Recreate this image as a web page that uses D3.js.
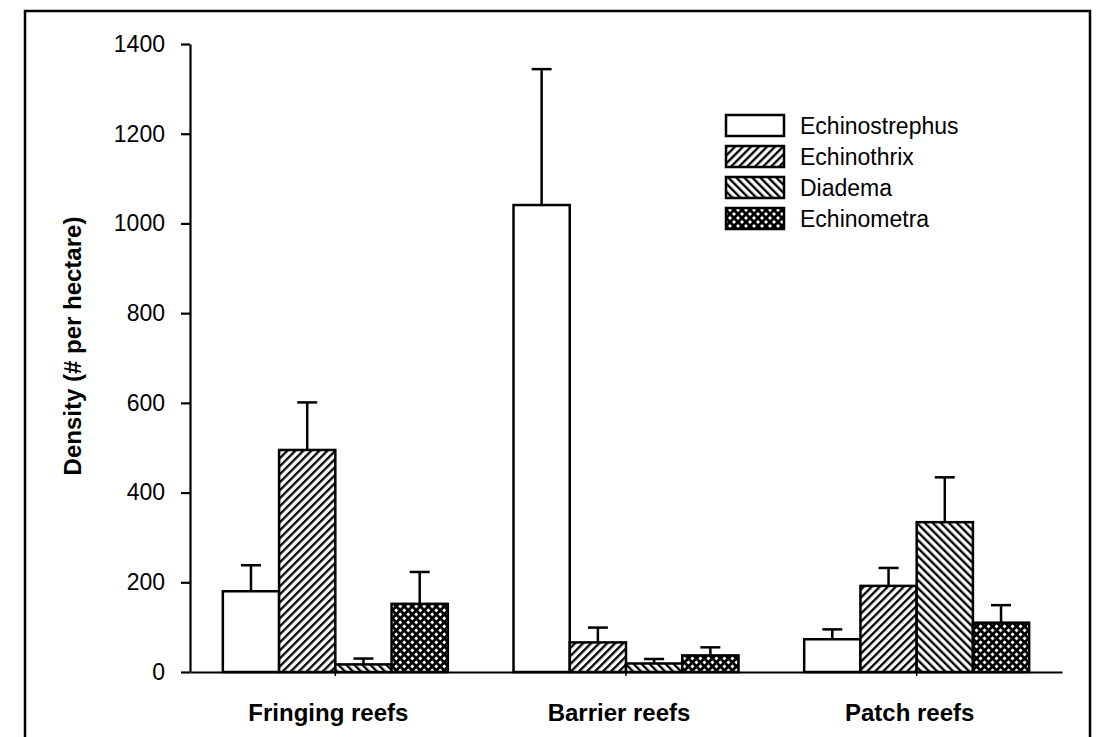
<!DOCTYPE html>
<html>
<head>
<meta charset="utf-8">
<script src="https://cdn.jsdelivr.net/npm/d3@7"></script>
<style>
  html, body { margin: 0; padding: 0; background: #fff; }
  svg { display: block; font-family: "Liberation Sans", Arial, Helvetica, sans-serif; }
</style>
</head>
<body>
<svg id="chart" width="1102" height="737"></svg>
<script>
// ---- data ----
const categories = ["Fringing reefs", "Barrier reefs", "Patch reefs"];
const seriesNames = ["Echinostrephus", "Echinothrix", "Diadema", "Echinometra"];
const echinostrephus = [180, 1041, 73];
const echinothrix = [495, 66, 192];
const diadema = [17, 19, 334];
const echinometra = [152, 37, 110];
const errEchinostrephus = [58, 303, 22];
const errEchinothrix = [106, 33, 40];
const errDiadema = [13, 10, 100];
const errEchinometra = [71, 18, 39];
const yTicks = [0, 200, 400, 600, 800, 1000, 1200, 1400];

const seriesValues = [echinostrephus, echinothrix, diadema, echinometra];
const seriesErrors = [errEchinostrephus, errEchinothrix, errDiadema, errEchinometra];
const fills = ["#ffffff", "url(#hatchFwd)", "url(#hatchBack)", "url(#crossHatch)"];

const svg = d3.select("#chart");

// patterns
const defs = svg.append("defs");
function stripePattern(id, angle) {
  const p = defs.append("pattern").attr("id", id)
    .attr("patternUnits", "userSpaceOnUse")
    .attr("width", 5.66).attr("height", 5.66)
    .attr("patternTransform", `rotate(${angle})`);
  p.append("rect").attr("width", 5.66).attr("height", 5.66).attr("fill", "#fff");
  p.append("line").attr("x1", 1.2).attr("y1", 0).attr("x2", 1.2).attr("y2", 5.66)
    .attr("stroke", "#000").attr("stroke-width", 2.3);
}
stripePattern("hatchFwd", 45);
stripePattern("hatchBack", -45);
(function () {
  const p = defs.append("pattern").attr("id", "crossHatch")
    .attr("patternUnits", "userSpaceOnUse")
    .attr("width", 5.66).attr("height", 5.66)
    .attr("patternTransform", "rotate(45)");
  p.append("rect").attr("width", 5.66).attr("height", 5.66).attr("fill", "#fff");
  p.append("line").attr("x1", 1.4).attr("y1", 0).attr("x2", 1.4).attr("y2", 5.66)
    .attr("stroke", "#000").attr("stroke-width", 2.8);
  p.append("line").attr("x1", 0).attr("y1", 1.4).attr("x2", 5.66).attr("y2", 1.4)
    .attr("stroke", "#000").attr("stroke-width", 2.8);
})();

// outer frame
svg.append("rect").attr("x", 25).attr("y", 11).attr("width", 1065).attr("height", 800)
  .attr("fill", "none").attr("stroke", "#000").attr("stroke-width", 2.5);

// scales
const x0 = d3.scaleBand().domain(categories).range([190, 1062])
  .paddingInner(0.226).paddingOuter(0.113);
const x1 = d3.scaleBand().domain(seriesNames).range([0, x0.bandwidth()]).padding(0);
const y = d3.scaleLinear().domain([0, 1400]).range([672, 44]);

// bars
const rows = [];
categories.forEach((c, ci) => {
  seriesNames.forEach((s, si) => {
    rows.push({ cat: c, ser: s, si, v: seriesValues[si][ci], e: seriesErrors[si][ci] });
  });
});

const g = svg.append("g");
g.selectAll("rect.bar").data(rows).join("rect")
  .attr("class", "bar")
  .attr("x", d => x0(d.cat) + x1(d.ser))
  .attr("y", d => y(d.v))
  .attr("width", x1.bandwidth())
  .attr("height", d => y(0) - y(d.v))
  .attr("fill", d => fills[d.si])
  .attr("stroke", "#000").attr("stroke-width", 2.5);

// error bars (upper only)
const eb = g.selectAll("g.err").data(rows).join("g").attr("class", "err")
  .attr("stroke", "#000").attr("stroke-width", 2.5);
eb.append("line")
  .attr("x1", d => x0(d.cat) + x1(d.ser) + x1.bandwidth() / 2)
  .attr("x2", d => x0(d.cat) + x1(d.ser) + x1.bandwidth() / 2)
  .attr("y1", d => y(d.v))
  .attr("y2", d => y(d.v + d.e));
eb.append("line")
  .attr("x1", d => x0(d.cat) + x1(d.ser) + x1.bandwidth() / 2 - 10)
  .attr("x2", d => x0(d.cat) + x1(d.ser) + x1.bandwidth() / 2 + 10)
  .attr("y1", d => y(d.v + d.e))
  .attr("y2", d => y(d.v + d.e));

// y axis
const yAxis = d3.axisLeft(y).tickValues(yTicks).tickFormat(d3.format("d"))
  .tickSize(9).tickSizeOuter(0).tickPadding(16);
const ya = svg.append("g").attr("transform", "translate(190,0)").call(yAxis);
ya.select(".domain").attr("stroke-width", 2.2);
ya.selectAll(".tick line").attr("stroke-width", 2.2);
ya.selectAll(".tick text").attr("font-size", 23).attr("fill", "#000")
  .attr("font-family", "'Liberation Sans', Arial, sans-serif");

// x axis
const xAxis = d3.axisBottom(x0).tickSize(4).tickSizeOuter(0).tickPadding(45);
const xa = svg.append("g").attr("transform", "translate(0,672)").call(xAxis);
xa.select(".domain").attr("stroke-width", 2);
xa.selectAll(".tick line").attr("stroke-width", 1.5);
xa.selectAll(".tick text").attr("font-size", 24).attr("font-weight", "bold").attr("fill", "#000")
  .attr("dy", 0).attr("y", 49).attr("dx", -7)
  .attr("font-family", "'Liberation Sans', Arial, sans-serif");

// y title
svg.append("text")
  .attr("transform", "translate(81,346) rotate(-90)")
  .attr("text-anchor", "middle")
  .attr("font-size", 24).attr("font-weight", "bold")
  .text("Density (# per hectare)");

// legend
const leg = svg.append("g").attr("transform", "translate(726,115)");
seriesNames.forEach((s, i) => {
  const row = leg.append("g").attr("transform", `translate(0,${i * 31})`);
  row.append("rect").attr("width", 58).attr("height", 21)
    .attr("fill", fills[i]).attr("stroke", "#000").attr("stroke-width", 2.5);
  row.append("text").attr("x", 74).attr("y", 19)
    .attr("font-size", 23).text(s);
});
</script>
</body>
</html>
